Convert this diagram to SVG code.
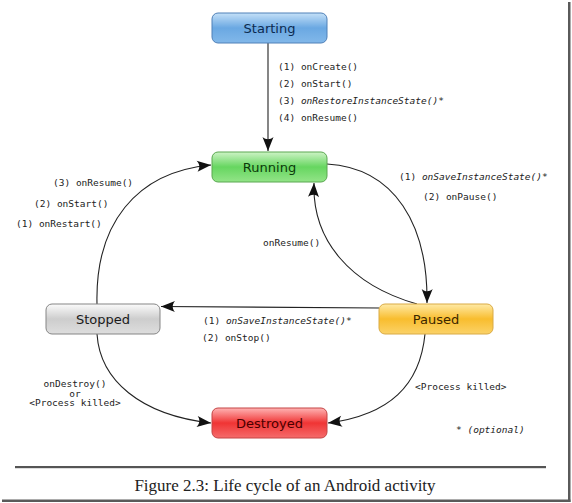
<svg xmlns="http://www.w3.org/2000/svg" width="572" height="503" viewBox="0 0 572 503">
<style>
.node rect{stroke-width:1}
.nlabel{font-family:"DejaVu Sans",sans-serif;font-size:13px;text-anchor:middle}
.lbl{font-family:"DejaVu Sans Mono",monospace;font-size:9.5px;fill:#222}
.it{font-style:italic}
.edge{fill:none;stroke:#222;stroke-width:1.1;marker-end:url(#arr)}
.caption{font-family:"Liberation Serif",serif;font-size:17px;fill:#222;text-anchor:middle}
</style>
<defs>
<marker id="arr" viewBox="-15 -6 16 12" refX="0" refY="0" markerWidth="16" markerHeight="12" markerUnits="userSpaceOnUse" orient="auto" overflow="visible">
<path d="M0,0 L-14,-5.5 C-11,-2 -11,2 -14,5.5 Z" fill="#111"/>
</marker>
<linearGradient id="gBlue" x1="0" y1="0" x2="0" y2="1"><stop offset="0" stop-color="#c4e0f8"/><stop offset="0.5" stop-color="#6aa8e2"/><stop offset="1" stop-color="#82b8ea"/></linearGradient>
<linearGradient id="gGreen" x1="0" y1="0" x2="0" y2="1"><stop offset="0" stop-color="#cdf3c5"/><stop offset="0.5" stop-color="#66d660"/><stop offset="1" stop-color="#93e488"/></linearGradient>
<linearGradient id="gGray" x1="0" y1="0" x2="0" y2="1"><stop offset="0" stop-color="#fbfbfb"/><stop offset="0.5" stop-color="#cdcdcd"/><stop offset="1" stop-color="#dedede"/></linearGradient>
<linearGradient id="gYellow" x1="0" y1="0" x2="0" y2="1"><stop offset="0" stop-color="#ffeaa6"/><stop offset="0.5" stop-color="#f8bd2e"/><stop offset="1" stop-color="#fbd268"/></linearGradient>
<linearGradient id="gRed" x1="0" y1="0" x2="0" y2="1"><stop offset="0" stop-color="#ffb4b4"/><stop offset="0.5" stop-color="#f03434"/><stop offset="1" stop-color="#f56c6c"/></linearGradient>
</defs>
<rect width="572" height="503" fill="#fff"/>
<g id="frame">
<rect x="568" y="2" width="2.5" height="500" fill="#5a5a5a"/>
<rect x="2" y="499.5" width="568.5" height="2.5" fill="#5a5a5a"/>
<rect x="15" y="466" width="531" height="2.2" fill="#555"/>
<text class="caption" x="285" y="491">Figure 2.3: Life cycle of an Android activity</text>
</g>
<g id="connectors">
<path class="edge" d="M268,43 L268,151"/>
<path class="edge" d="M327,164 C395,168 428,225 427,303"/>
<path class="edge" d="M417,304 C350,285 312,240 314,183"/>
<path class="edge" d="M379,308 L161,306.5"/>
<path class="edge" d="M97,304 C95,225 135,172 211,165"/>
<path class="edge" d="M97,334 C100,380 140,415 211,423"/>
<path class="edge" d="M425,334 C420,385 390,415 328,423"/>
</g>
<g id="labels">
<text class="lbl" x="278" y="70">(1) onCreate()</text>
<text class="lbl" x="278" y="87">(2) onStart()</text>
<text class="lbl" x="278" y="104">(3) <tspan class="it">onRestoreInstanceState()*</tspan></text>
<text class="lbl" x="278" y="121">(4) onResume()</text>
<text class="lbl" x="399" y="180">(1) <tspan class="it">onSaveInstanceState()*</tspan></text>
<text class="lbl" x="423" y="200">(2) onPause()</text>
<text class="lbl" x="263" y="246">onResume()</text>
<text class="lbl" x="53" y="186">(3) onResume()</text>
<text class="lbl" x="34" y="207">(2) onStart()</text>
<text class="lbl" x="16" y="227">(1) onRestart()</text>
<text class="lbl" x="203" y="324">(1) <tspan class="it">onSaveInstanceState()*</tspan></text>
<text class="lbl" x="202" y="341">(2) onStop()</text>
<text class="lbl" x="75" y="387" text-anchor="middle">onDestroy()</text>
<text class="lbl" x="75" y="396.5" text-anchor="middle">or</text>
<text class="lbl" x="75" y="406" text-anchor="middle">&lt;Process killed&gt;</text>
<text class="lbl" x="415" y="390">&lt;Process killed&gt;</text>
<text class="lbl" x="456" y="433">* <tspan class="it">(optional)</tspan></text>
</g>
<g id="starting" class="node">
<rect x="212" y="13" width="115" height="30" rx="6" fill="url(#gBlue)" stroke="#4f80b8"/>
<text class="nlabel" x="269.5" y="32.5" fill="#0c2a50">Starting</text>
</g>
<g id="running" class="node">
<rect x="212" y="152" width="115" height="30" rx="6" fill="url(#gGreen)" stroke="#5aa850"/>
<text class="nlabel" x="269.5" y="171.5" fill="#0b3a0b">Running</text>
</g>
<g id="stopped" class="node">
<rect x="46" y="304" width="114" height="30" rx="6" fill="url(#gGray)" stroke="#858585"/>
<text class="nlabel" x="103" y="323.5" fill="#1a1a1a">Stopped</text>
</g>
<g id="paused" class="node">
<rect x="379" y="304" width="114" height="30" rx="6" fill="url(#gYellow)" stroke="#d9aa45"/>
<text class="nlabel" x="436" y="323.5" fill="#3a2600">Paused</text>
</g>
<g id="destroyed" class="node">
<rect x="212" y="408" width="115" height="30" rx="6" fill="url(#gRed)" stroke="#c44444"/>
<text class="nlabel" x="269.5" y="427.5" fill="#4a0000">Destroyed</text>
</g>
</svg>
